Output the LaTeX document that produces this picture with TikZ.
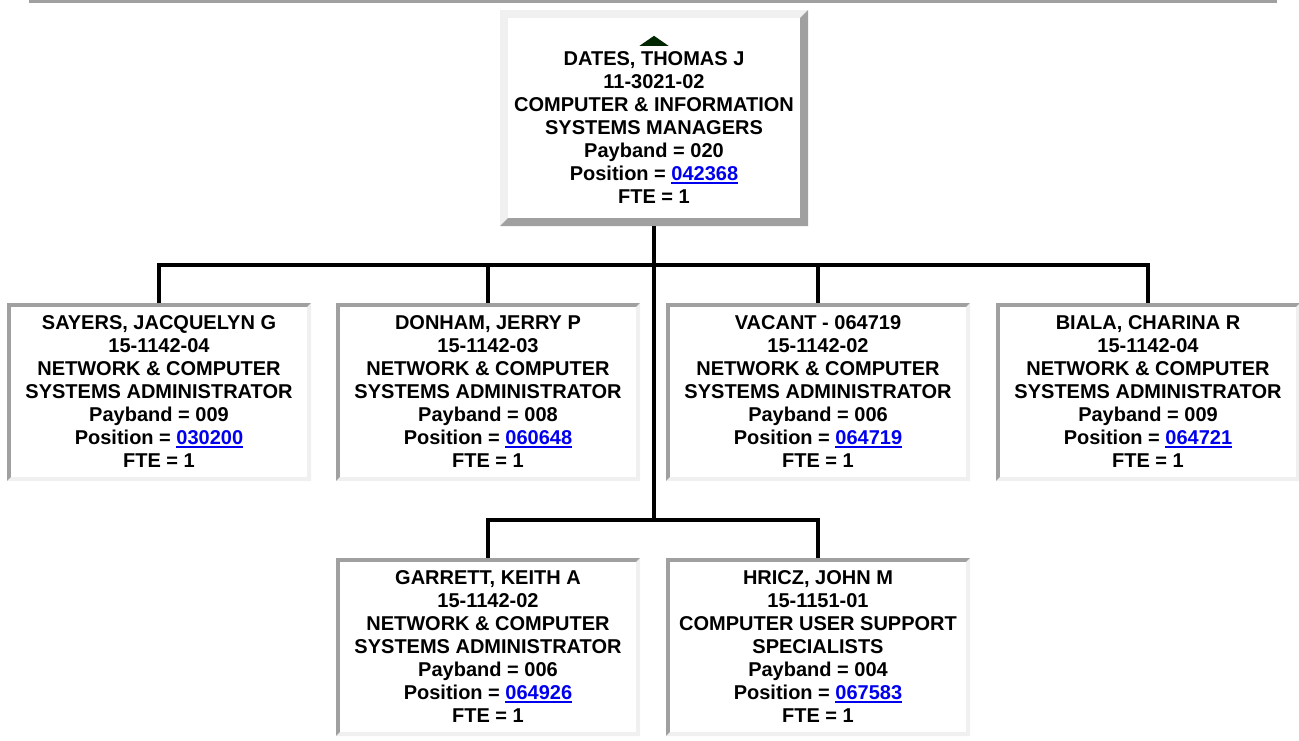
\documentclass[tikz,border=0pt]{standalone}
\usepackage{fontspec}
\setmainfont{Liberation Sans}
\usepackage{xcolor}
\usepackage{tikz}

\definecolor{boxlight}{RGB}{240,240,240}
\definecolor{boxdark}{RGB}{160,160,160}
\definecolor{linkblue}{RGB}{0,0,238}
\definecolor{markgreen}{RGB}{0,40,0}
\newcommand{\cardfont}{\fontsize{20bp}{23bp}\selectfont\bfseries}
\newcommand{\poslink}[1]{\textcolor{linkblue}{\setbox0\hbox{#1}\rlap{\rule[-3.5bp]{\wd0}{2bp}}\box0}}
\newcommand{\bevelbox}[3]{%
	\fill[#2] (path picture bounding box.south west) rectangle (path picture bounding box.north east);
	\fill[#3] (path picture bounding box.north east) -- (path picture bounding box.south east) -- (path picture bounding box.south west) -- ++(#1,#1) -- ([shift={(-#1,#1)}]path picture bounding box.south east) -- ([shift={(-#1,-#1)}]path picture bounding box.north east) -- cycle;
	\fill[white] ([shift={(#1,#1)}]path picture bounding box.south west) rectangle ([shift={(-#1,-#1)}]path picture bounding box.north east);}

\tikzset{
	orgline/.style={line width=4.5bp},
	mgrbox/.style={fill=white, minimum width=308bp, minimum height=216bp, inner sep=0pt, path picture={\bevelbox{8bp}{boxlight}{boxdark}}},
	staffbox/.style={fill=white, minimum width=304bp, minimum height=178bp, inner sep=0pt, align=center, font=\cardfont, path picture={\bevelbox{4bp}{boxdark}{boxlight}}},
	cardtext/.style={align=center, inner sep=0pt, font=\cardfont}
}

\begin{document}
\begin{tikzpicture}[x=1bp, y=-1bp]
	\path[fill=white] (0,0) rectangle (1299,740);
	\useasboundingbox (0,0) rectangle (1299,740);
	\draw[boxdark, line width=3bp] (29,1.5) -- (1277,1.5);
	% Boxes:
	\node[mgrbox] (dates) at (654,118){};
	\node[cardtext] (datesinfo) at ([yshift=-10bp]dates.center){DATES, THOMAS J\\11-3021-02\\COMPUTER \& INFORMATION\\SYSTEMS MANAGERS\\Payband = 020\\Position = \poslink{042368}\\FTE = 1};
	\fill[markgreen] ([xshift=-14.5bp, yshift=6bp]datesinfo.north) -- ([xshift=14.5bp, yshift=6bp]datesinfo.north) -- ([yshift=16bp]datesinfo.north) -- cycle;
	\node[staffbox] (sayers) at (159,392){SAYERS, JACQUELYN G\\15-1142-04\\NETWORK \& COMPUTER\\SYSTEMS ADMINISTRATOR\\Payband = 009\\Position = \poslink{030200}\\FTE = 1};
	\node[staffbox] (donham) at (488,392){DONHAM, JERRY P\\15-1142-03\\NETWORK \& COMPUTER\\SYSTEMS ADMINISTRATOR\\Payband = 008\\Position = \poslink{060648}\\FTE = 1};
	\node[staffbox] (vacant) at (818,392){VACANT - 064719\\15-1142-02\\NETWORK \& COMPUTER\\SYSTEMS ADMINISTRATOR\\Payband = 006\\Position = \poslink{064719}\\FTE = 1};
	\node[staffbox] (biala) at (1148,392){BIALA, CHARINA R\\15-1142-04\\NETWORK \& COMPUTER\\SYSTEMS ADMINISTRATOR\\Payband = 009\\Position = \poslink{064721}\\FTE = 1};
	\node[staffbox] (garrett) at (488,647){GARRETT, KEITH A\\15-1142-02\\NETWORK \& COMPUTER\\SYSTEMS ADMINISTRATOR\\Payband = 006\\Position = \poslink{064926}\\FTE = 1};
	\node[staffbox] (hricz) at (818,647){HRICZ, JOHN M\\15-1151-01\\COMPUTER USER SUPPORT\\SPECIALISTS\\Payband = 004\\Position = \poslink{067583}\\FTE = 1};
	% Wires:
	\draw[orgline] (dates.south) -- ++(0,39) -| (sayers.north);
	\draw[orgline] (dates.south) -- ++(0,39) -| (donham.north);
	\draw[orgline] (dates.south) -- ++(0,39) -| (vacant.north);
	\draw[orgline] (dates.south) -- ++(0,39) -| (biala.north);
	\draw[orgline] (dates.south) -- ++(0,294) -| (garrett.north);
	\draw[orgline] (dates.south) -- ++(0,294) -| (hricz.north);
\end{tikzpicture}
\end{document}
